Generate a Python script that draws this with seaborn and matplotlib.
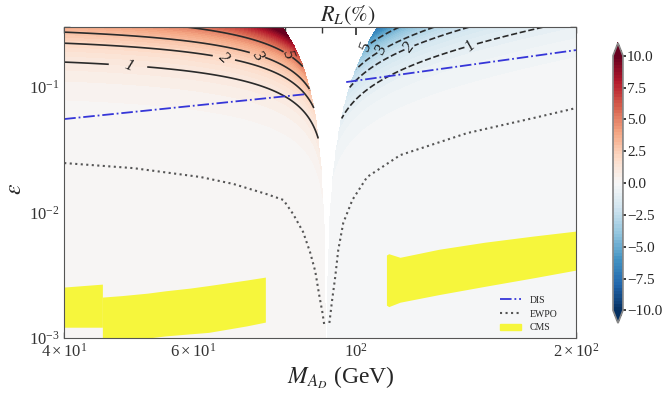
import numpy as np
import pandas as pd
import matplotlib
matplotlib.use("Agg")
import matplotlib.pyplot as plt
import seaborn as sns
from matplotlib.patches import Patch
from matplotlib.lines import Line2D

# R_L(%) ~ AMP * eps^2 / (1 - M^2/M_Z^2), blanked near the Z pole
M_Z = 91.19
AMP = 32.3
MASK_LEFT = 0.63
MASK_RIGHT = 0.99
MASK_POW = 0.8

LEVELS_POS = [1, 2, 3, 5]
LEVELS_NEG = [-5, -3, -2, -1]
# where the contour labels sit (M, eps)
LABELS_POS = [(49.2, 0.150), (65.8, 0.170), (73.4, 0.180), (79.4, 0.180)]
LABELS_NEG = [(102.5, 0.197), (108.1, 0.197), (117.7, 0.208), (142.6, 0.216)]

# DIS bound
dis_m_left = [40.0, 85.7]
dis_eps_left = [0.0556, 0.0879]
dis_m_right = [97.1, 200.0]
dis_eps_right = [0.1096, 0.197]

# EWPO bound
ewpo_m_left = [40.0, 49.7, 61.4, 68.1, 75.7, 79.7, 82.2, 84.8, 86.7, 88.1, 89.2, 90.1, 90.6]
ewpo_eps_left = [0.0248, 0.0226, 0.0192, 0.0169, 0.0140, 0.0126, 0.0097, 0.0070, 0.0048,
                 0.0034, 0.0022, 0.0016, 0.00129]
ewpo_m_right = [92.1, 92.9, 93.8, 94.7, 96.2, 99.0, 103.7, 115.1, 142.1, 174.9, 200.0]
ewpo_eps_right = [0.00132, 0.00201, 0.00306, 0.00502, 0.00825, 0.0126, 0.0192, 0.0287,
                  0.0430, 0.0566, 0.0680]

# CMS excluded bands
cms1_m = [40.0, 45.1]
cms1_lo = [0.00122, 0.00122]
cms1_hi = [0.00255, 0.00269]
cms2_m = [45.1, 48.0, 52.0, 55.0, 59.4, 63.0, 67.0, 71.0, 75.3]
cms2_lo = [0.00098, 0.00097, 0.00100, 0.00104, 0.00108, 0.00111, 0.00118, 0.00125, 0.00134]
cms2_hi = [0.00212, 0.00218, 0.00228, 0.00238, 0.00250, 0.00262, 0.00276, 0.00290, 0.00306]
cms3_m = [110.2, 111.0, 115.0, 130.0, 150.0, 175.0, 200.0]
cms3_lo = [0.00183, 0.00178, 0.00193, 0.00222, 0.00258, 0.00302, 0.00348]
cms3_hi = [0.00459, 0.00470, 0.00440, 0.00510, 0.00580, 0.00650, 0.00712]

sns.set_theme(style="ticks")
plt.rcParams["font.family"] = ["Liberation Serif", "DejaVu Serif"]
plt.rcParams["mathtext.fontset"] = "stix"

fig = plt.figure(figsize=(6.62, 3.94), dpi=100)
ax = fig.add_axes([0.097, 0.142, 0.773, 0.789])
cax = fig.add_axes([0.926, 0.180, 0.015, 0.711])

m = np.geomspace(40, 200, 700)
eps = np.geomspace(1e-3, 0.3, 500)
MM, EE = np.meshgrid(m, eps)
dz = 1 - MM**2 / M_Z**2
R = AMP * EE**2 / dz
blank = ((dz > 0) & (dz < MASK_LEFT * EE**MASK_POW)) | ((dz < 0) & (-dz < MASK_RIGHT * EE**MASK_POW))
R = np.ma.masked_where(blank, R)

cf = ax.contourf(MM, EE, R, levels=np.linspace(-10, 10, 81), cmap="RdBu_r", extend="both")
cs_pos = ax.contour(MM, EE, R, levels=LEVELS_POS, colors="#2a2a2a", linewidths=1.2, linestyles="-")
cs_neg = ax.contour(MM, EE, R, levels=LEVELS_NEG, colors="#2a2a2a", linewidths=1.2, linestyles="--")

ax.clabel(cs_pos, manual=LABELS_POS, fmt=lambda v: f"{abs(v):g}",
          fontsize=12, inline=True, inline_spacing=6, colors="k")
ax.clabel(cs_neg, manual=LABELS_NEG, fmt=lambda v: f"{abs(v):g}",
          fontsize=12, inline=True, inline_spacing=6, colors="k")
for t in ax.texts:
    t.set_fontstyle("italic")

dis = pd.DataFrame({"M": dis_m_left + dis_m_right, "eps": dis_eps_left + dis_eps_right,
                    "part": ["a"] * 2 + ["b"] * 2})
sns.lineplot(data=dis, x="M", y="eps", units="part", estimator=None, color="#3636d8",
             linestyle="-.", linewidth=1.3, ax=ax)
ewpo = pd.DataFrame({"M": ewpo_m_left + ewpo_m_right, "eps": ewpo_eps_left + ewpo_eps_right,
                     "part": ["a"] * len(ewpo_m_left) + ["b"] * len(ewpo_m_right)})
sns.lineplot(data=ewpo, x="M", y="eps", units="part", estimator=None, color="#555555",
             linestyle=":", linewidth=1.5, ax=ax)

yellow = "#f6f63c"
ax.fill_between(cms1_m, cms1_lo, cms1_hi, color=yellow, lw=0)
ax.fill_between(cms2_m, cms2_lo, cms2_hi, color=yellow, lw=0)
ax.fill_between(cms3_m, cms3_lo, cms3_hi, color=yellow, lw=0)

ax.set_xscale("log")
ax.set_yscale("log")
ax.set_xlim(40, 200)
ax.set_ylim(1e-3, 0.3)
ax.tick_params(which="both", direction="in", top=True, right=True, labelsize=12, colors="#333333")
for sp in ax.spines.values():
    sp.set_color("#555555")
    sp.set_linewidth(0.8)

ax.set_title(r"$R_L(\%)$", fontsize=16, pad=3, x=0.555)
ax.set_xlabel(r"$M_{A_D}$ (GeV)", fontsize=17)
ax.xaxis.set_label_coords(0.541, -0.085)
ax.set_ylabel(r"$\varepsilon$", fontsize=17, va="center")
ax.yaxis.set_label_coords(-0.096, 0.48)

handles = [Line2D([], [], color="#3636d8", linestyle="-.", linewidth=1.3),
           Line2D([], [], color="#555555", linestyle=":", linewidth=1.5),
           Patch(color=yellow)]
ax.legend(handles, ["DIS", "EWPO", "CMS"], loc="lower right", frameon=False, fontsize=7,
          bbox_to_anchor=(0.98, -0.01), handlelength=2.2)

cb = fig.colorbar(cf, cax=cax, ticks=np.arange(-10, 10.1, 2.5))
cb.ax.tick_params(labelsize=11, length=2, pad=1)
cb.outline.set_edgecolor("#888888")

fig.savefig("out.png", dpi=100)
